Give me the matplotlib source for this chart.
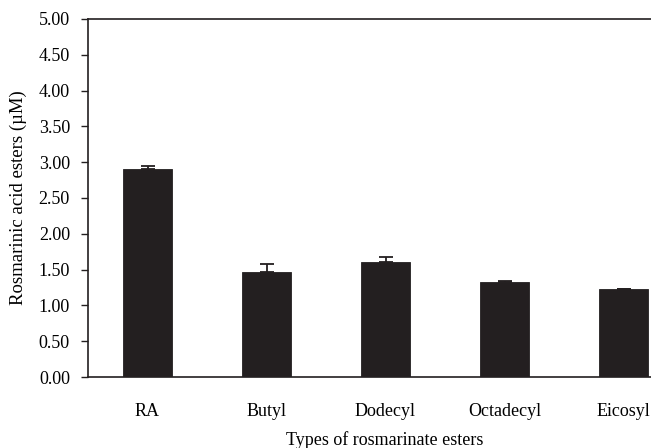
import matplotlib
matplotlib.use("Agg")
import matplotlib.pyplot as plt
import numpy as np

categories = ["RA", "Butyl", "Dodecyl", "Octadecyl", "Eicosyl"]
values = [2.90, 1.46, 1.60, 1.32, 1.225]
errors = [0.05, 0.12, 0.08, 0.02, 0.01]
yticks = [0.0, 0.5, 1.0, 1.5, 2.0, 2.5, 3.0, 3.5, 4.0, 4.5, 5.0]

plt.rcParams['font.family'] = ['Liberation Serif', 'DejaVu Serif']

W, H = 651, 448
fig = plt.figure(figsize=(W / 100, H / 100), dpi=100)
# plot area runs past the right edge of the canvas
ax = fig.add_axes([88 / W, 1 - 377 / H, 595 / W, (377 - 19) / H])

x = np.arange(len(categories))
ax.bar(x, values, width=0.42, color="#231f20", edgecolor="#231f20", linewidth=0.6, zorder=2)
ax.errorbar(x, values, yerr=[np.zeros(len(errors)), errors], fmt="none",
            ecolor="#231f20", elinewidth=1.3, capsize=5, capthick=1.3, zorder=3)

ax.set_xlim(-0.5, len(categories) - 0.5)
ax.set_ylim(0, 5)
ax.set_yticks(yticks)
ax.set_yticklabels([f"{v:.2f}" for v in yticks], fontsize=13)
ax.set_xticks(x)
ax.set_xticklabels(categories, fontsize=13)
ax.tick_params(axis="x", length=0, pad=19)
ax.tick_params(axis="y", length=5, width=1, direction="out", pad=8, color="#231f20")

for side in ["left", "top", "bottom", "right"]:
    ax.spines[side].set_linewidth(1.2)
    ax.spines[side].set_color("#231f20")

ax.set_ylabel("Rosmarinic acid esters (\u00b5M)", fontsize=13.5, labelpad=8)
fig.text((88 + 297) / W, 1 - 440 / H, "Types of rosmarinate esters",
         ha="center", va="center", fontsize=13)

fig.savefig("out.png", dpi=100)
